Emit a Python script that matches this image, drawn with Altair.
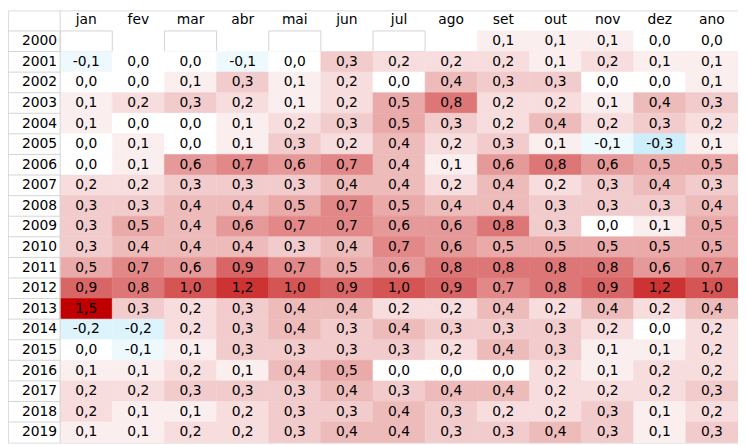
import altair as alt
import pandas as pd

months = ["jan", "fev", "mar", "abr", "mai", "jun", "jul", "ago", "set", "out", "nov", "dez", "ano"]
years = [str(y) for y in range(2000, 2020)]

N = None
v2000 = [N, N, N, N, N, N, N, N, 0.1, 0.1, 0.1, 0.0, 0.0]
v2001 = [-0.1, 0.0, 0.0, -0.1, 0.0, 0.3, 0.2, 0.2, 0.2, 0.1, 0.2, 0.1, 0.1]
v2002 = [0.0, 0.0, 0.1, 0.3, 0.1, 0.2, 0.0, 0.4, 0.3, 0.3, 0.0, 0.0, 0.1]
v2003 = [0.1, 0.2, 0.3, 0.2, 0.1, 0.2, 0.5, 0.8, 0.2, 0.2, 0.1, 0.4, 0.3]
v2004 = [0.1, 0.0, 0.0, 0.1, 0.2, 0.3, 0.5, 0.3, 0.2, 0.4, 0.2, 0.3, 0.2]
v2005 = [0.0, 0.1, 0.0, 0.1, 0.3, 0.2, 0.4, 0.2, 0.3, 0.1, -0.1, -0.3, 0.1]
v2006 = [0.0, 0.1, 0.6, 0.7, 0.6, 0.7, 0.4, 0.1, 0.6, 0.8, 0.6, 0.5, 0.5]
v2007 = [0.2, 0.2, 0.3, 0.3, 0.3, 0.4, 0.4, 0.2, 0.4, 0.2, 0.3, 0.4, 0.3]
v2008 = [0.3, 0.3, 0.4, 0.4, 0.5, 0.7, 0.5, 0.4, 0.4, 0.3, 0.3, 0.3, 0.4]
v2009 = [0.3, 0.5, 0.4, 0.6, 0.7, 0.7, 0.6, 0.6, 0.8, 0.3, 0.0, 0.1, 0.5]
v2010 = [0.3, 0.4, 0.4, 0.4, 0.3, 0.4, 0.7, 0.6, 0.5, 0.5, 0.5, 0.5, 0.5]
v2011 = [0.5, 0.7, 0.6, 0.9, 0.7, 0.5, 0.6, 0.8, 0.8, 0.8, 0.8, 0.6, 0.7]
v2012 = [0.9, 0.8, 1.0, 1.2, 1.0, 0.9, 1.0, 0.9, 0.7, 0.8, 0.9, 1.2, 1.0]
v2013 = [1.5, 0.3, 0.2, 0.3, 0.4, 0.4, 0.2, 0.2, 0.4, 0.2, 0.4, 0.2, 0.4]
v2014 = [-0.2, -0.2, 0.2, 0.3, 0.4, 0.3, 0.4, 0.3, 0.3, 0.3, 0.2, 0.0, 0.2]
v2015 = [0.0, -0.1, 0.1, 0.3, 0.3, 0.3, 0.3, 0.2, 0.4, 0.3, 0.1, 0.1, 0.2]
v2016 = [0.1, 0.1, 0.2, 0.1, 0.4, 0.5, 0.0, 0.0, 0.0, 0.2, 0.1, 0.2, 0.2]
v2017 = [0.2, 0.2, 0.3, 0.3, 0.3, 0.4, 0.3, 0.4, 0.4, 0.2, 0.2, 0.2, 0.3]
v2018 = [0.2, 0.1, 0.1, 0.2, 0.3, 0.3, 0.4, 0.3, 0.2, 0.2, 0.3, 0.1, 0.2]
v2019 = [0.1, 0.1, 0.2, 0.2, 0.3, 0.4, 0.4, 0.3, 0.3, 0.4, 0.3, 0.1, 0.3]

rows = [v2000, v2001, v2002, v2003, v2004, v2005, v2006, v2007, v2008, v2009,
        v2010, v2011, v2012, v2013, v2014, v2015, v2016, v2017, v2018, v2019]

# empty 2000 cells that show their grid box
boxed_2000 = ["jan", "mar", "mai", "jul"]

W, H = 738, 437
FONT = "DejaVu Sans"
FS = 14
GRID = "#d4d4d4"

recs = []
for y, vals in zip(years, rows):
    for m, v in zip(months, vals):
        if v is not None:
            recs.append({"year": y, "col": m, "value": v,
                         "label": f"{v:.1f}".replace(".", ",")})
cells = pd.DataFrame(recs)

cols_all = ["lbl"] + months
rows_all = ["hdr"] + years
xs = alt.Scale(type="band", domain=cols_all, paddingInner=0, paddingOuter=0)
ys = alt.Scale(type="band", domain=rows_all, paddingInner=0, paddingOuter=0)
cs = alt.Scale(type="linear", domain=[-0.3, 0, 1.5], range=["#cdeefa", "#ffffff", "#c00000"],
               interpolate="rgb", zero=False, nice=False)

boxes = alt.Chart(pd.DataFrame({"col": boxed_2000, "year": ["2000"] * 4})).mark_rect(
    fill="white", stroke=GRID, strokeWidth=1
).encode(x=alt.X("col:N", scale=xs, axis=None), y=alt.Y("year:N", scale=ys, axis=None))

rects = alt.Chart(cells).mark_rect(strokeWidth=0.6).encode(
    x=alt.X("col:N", scale=xs, axis=None),
    y=alt.Y("year:N", scale=ys, axis=None),
    color=alt.Color("value:Q", scale=cs, legend=None),
    stroke=alt.Stroke("value:Q", scale=cs, legend=None),
)

hlines = alt.Chart(pd.DataFrame({"year": years})).mark_rule(color=GRID, strokeWidth=1).encode(
    y=alt.Y("year:N", scale=ys, axis=None, bandPosition=0),
    x=alt.value(0),
    x2=alt.value(W / 14),
)

vline = alt.Chart(pd.DataFrame({"col": ["jan"]})).mark_rule(color=GRID, strokeWidth=1).encode(
    x=alt.X("col:N", scale=xs, axis=None, bandPosition=0),
    y=alt.value(0),
    y2=alt.value(H),
)

texts = alt.Chart(cells).mark_text(font=FONT, fontSize=FS, color="black", baseline="middle").encode(
    x=alt.X("col:N", scale=xs, axis=None),
    y=alt.Y("year:N", scale=ys, axis=None),
    text="label:N",
)

header = alt.Chart(pd.DataFrame({"col": months, "year": ["hdr"] * len(months)})).mark_text(
    font=FONT, fontSize=FS, color="black", baseline="middle", dy=-1
).encode(
    x=alt.X("col:N", scale=xs, axis=None),
    y=alt.Y("year:N", scale=ys, axis=None),
    text="col:N",
)

ylabels = alt.Chart(pd.DataFrame({"col": ["lbl"] * len(years), "year": years})).mark_text(
    font=FONT, fontSize=FS, color="black", baseline="middle", align="right", dx=W / 28 - 3
).encode(
    x=alt.X("col:N", scale=xs, axis=None),
    y=alt.Y("year:N", scale=ys, axis=None),
    text="year:N",
)

chart = alt.layer(boxes, rects, hlines, vline, texts, header, ylabels).properties(
    width=W, height=H, padding=0, autosize="none"
).configure_view(stroke=None).configure(background="white")

chart.save("out.html", embed_options={"renderer": "svg", "actions": False})
